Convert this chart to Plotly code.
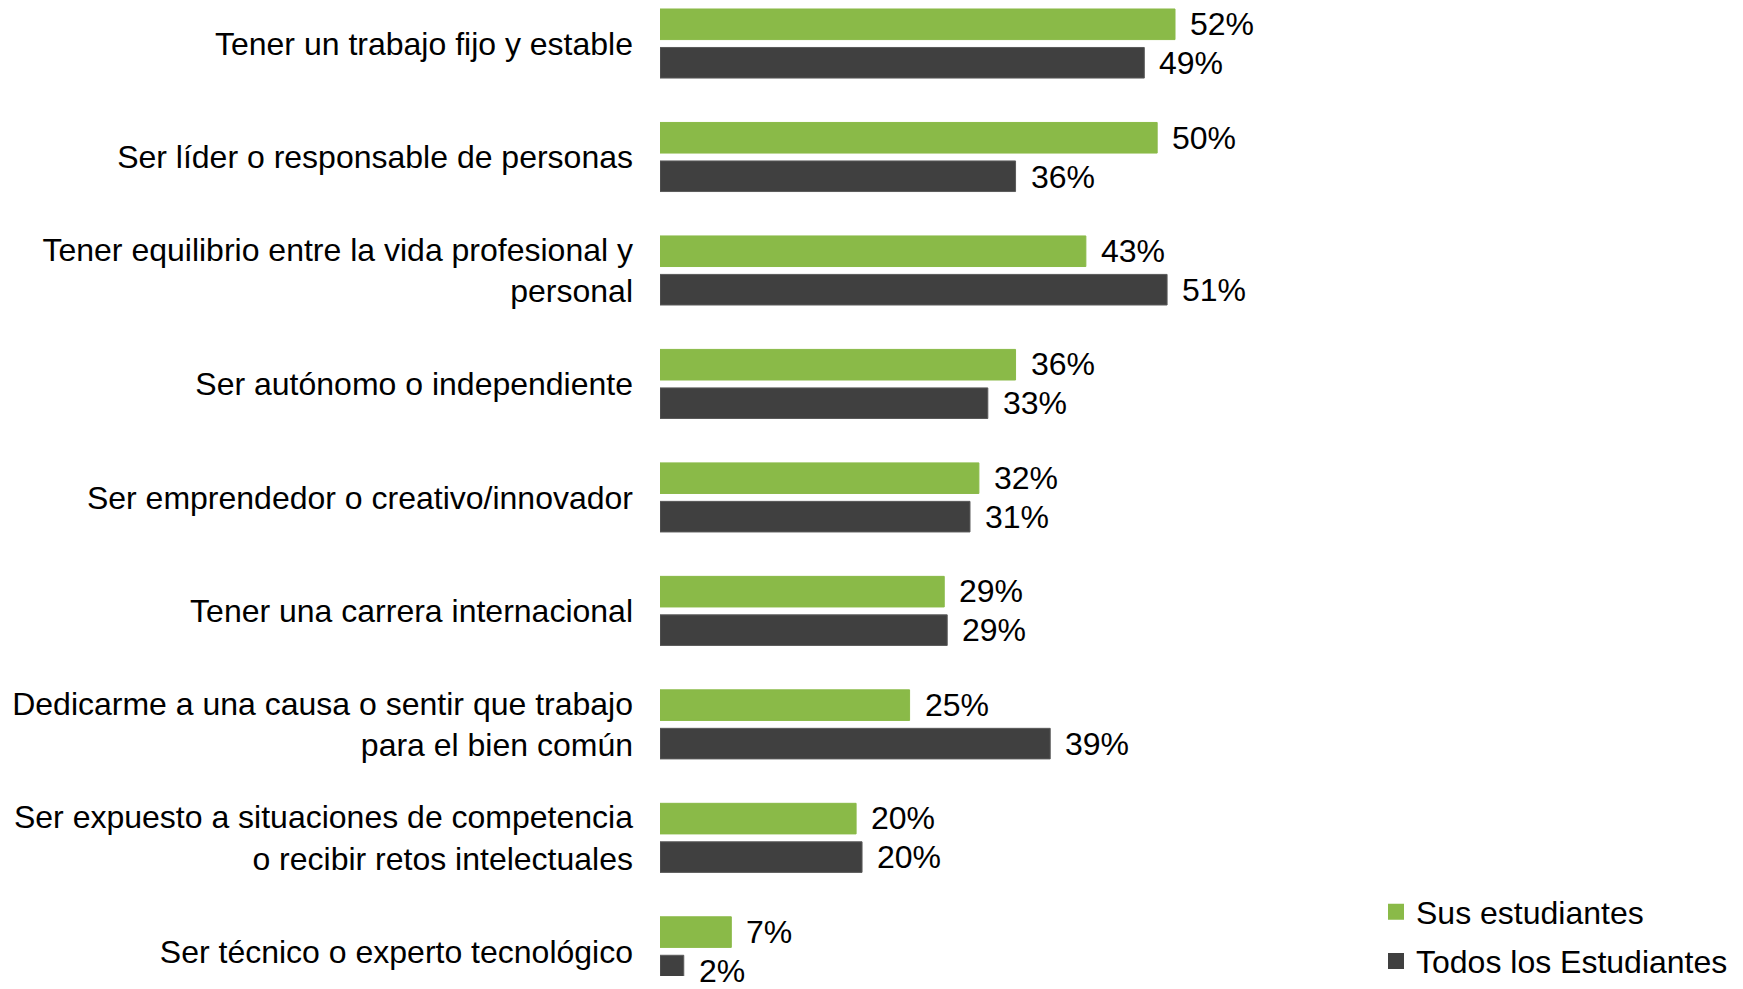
import plotly.graph_objects as go

categories = [
    "Tener un trabajo fijo y estable",
    "Ser líder o responsable de personas",
    "Tener equilibrio entre la vida profesional y<br>personal",
    "Ser autónomo o independiente",
    "Ser emprendedor o creativo/innovador",
    "Tener una carrera internacional",
    "Dedicarme a una causa o sentir que trabajo<br>para el bien común",
    "Ser expuesto a situaciones de competencia<br>o recibir retos intelectuales",
    "Ser técnico o experto tecnológico",
]
sus_estudiantes = [52.0, 50.2, 43.0, 35.9, 32.2, 28.7, 25.2, 19.8, 7.2]
todos_estudiantes = [48.9, 35.9, 51.2, 33.1, 31.3, 29.0, 39.4, 20.4, 2.4]
series_names = ["Sus estudiantes", "Todos los Estudiantes"]
colors = ["#8aba48", "#404040"]

FONT = "Liberation Sans"
FS = 32
W, H = 1735, 981
left = 652
px_per_pct = 515 / 52
plot_w = W - left
pitch = 115.0
c0 = 36
bar_off = 19.5  # px between category centre and each bar centre

fig = go.Figure()
annotations = []
for i, (name, vals) in enumerate(zip(series_names, [sus_estudiantes, todos_estudiantes])):
    fig.add_trace(go.Bar(
        y=categories, x=vals, orientation="h", name=name,
        marker=dict(color=colors[i], line=dict(width=1, color="#5a5a5a" if i else colors[i])),
        hoverinfo="skip", showlegend=False,
    ))
    # legend proxy with larger square symbol
    fig.add_trace(go.Scatter(
        x=[None], y=[None], mode="markers", name=name,
        marker=dict(symbol="square", size=17, color=colors[i]),
        showlegend=True, legend="legend" if i == 0 else "legend2",
    ))
    for c, v in zip(categories, vals):
        annotations.append(dict(
            x=v, y=c, xref="x", yref="y", text=f"{round(v)}%", showarrow=False,
            xanchor="left", yanchor="middle", xshift=13,
            yshift=bar_off if i == 0 else -bar_off,
            font=dict(size=FS, color="#000000", family=FONT),
        ))

fig.update_layout(
    width=W, height=H,
    margin=dict(l=left, r=0, t=0, b=0),
    paper_bgcolor="white", plot_bgcolor="white",
    showlegend=True,
    barmode="group", bargap=1 - 78 / pitch, bargroupgap=8 / 39,
    font=dict(family=FONT, size=FS, color="#000000"),
    annotations=annotations,
    xaxis=dict(range=[0, plot_w / px_per_pct], visible=False, fixedrange=True),
    yaxis=dict(
        type="category", categoryorder="array", categoryarray=categories,
        range=[(H - c0) / pitch, -c0 / pitch],
        showline=False, showgrid=False, zeroline=False, ticks="",
        ticklabelstandoff=26,
        tickfont=dict(size=FS, color="#000000", family=FONT),
    ),
    legend=dict(x=(1368 - left) / plot_w, y=(H - 916) / H, xanchor="left", yanchor="middle",
                font=dict(size=FS), bgcolor="rgba(0,0,0,0)", itemwidth=30),
    legend2=dict(x=(1368 - left) / plot_w, y=(H - 966) / H, xanchor="left", yanchor="middle",
                 font=dict(size=FS), bgcolor="rgba(0,0,0,0)", itemwidth=30),
)

fig.write_html("out.html")
